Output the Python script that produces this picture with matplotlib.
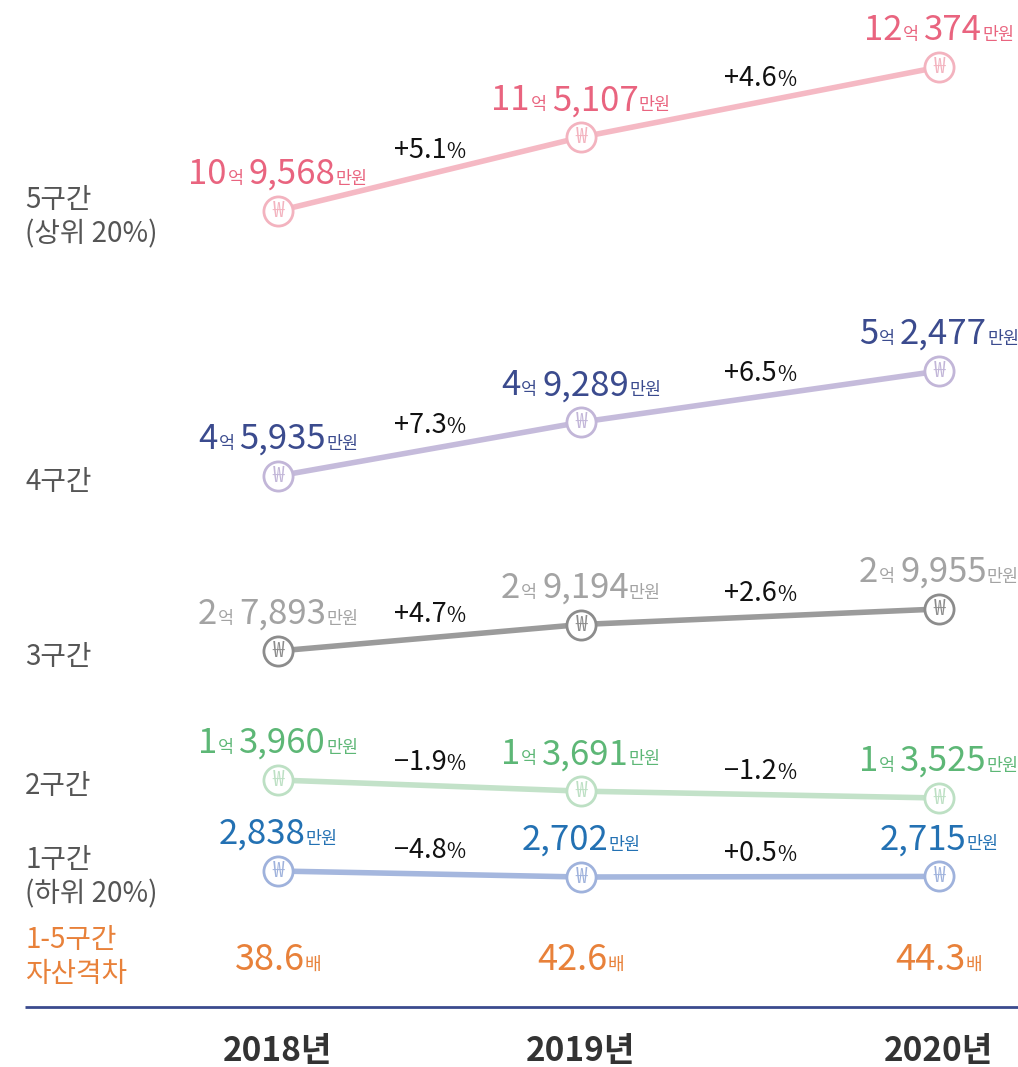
import matplotlib
matplotlib.use("Agg")
import matplotlib.pyplot as plt

plt.rcParams['font.family'] = ['Noto Sans CJK KR', 'DejaVu Sans']

# data (단위: 만원)
years = ['2018년', '2019년', '2020년']
group_labels = ['5구간\n(상위 20%)', '4구간', '3구간', '2구간', '1구간\n(하위 20%)']
g5 = [109568, 115107, 120374]
g4 = [45935, 49289, 52477]
g3 = [27893, 29194, 29955]
g2 = [13960, 13691, 13525]
g1 = [2838, 2702, 2715]
r5 = ['+5.1', '+4.6']
r4 = ['+7.3', '+6.5']
r3 = ['+4.7', '+2.6']
r2 = ['\u22121.9', '\u22121.2']
r1 = ['\u22124.8', '+0.5']
gap_label = '1-5구간\n자산격차'
gap_ratio = ['38.6', '42.6', '44.3']

# layout
W, H = 1018, 1067
col_x = [278 / W, 581 / W, 939 / W]
# pixel rows of each band's max / min value
band_px = [(67, 211), (371, 476), (609, 651), (780, 798), (871, 877)]
text_cols = ['#e9647f', '#3b4b8e', '#a3a3a3', '#5db776', '#2371b3']
line_cols = ['#f5b9c4', '#c5bbdb', '#9b9b9b', '#c3e2c9', '#a5b7de']
mark_cols = ['#f3b3bf', '#c2b6d8', '#8c8c8c', '#bde0c4', '#9fb2dc']
orange = '#e8813a'

fig = plt.figure(figsize=(W / 100, H / 100), dpi=100)
renderer = fig.canvas.get_renderer()

base = fig.add_axes([0, 0, 1, 1])
base.set_xlim(0, 1)
base.set_ylim(H, 0)
base.axis('off')
base.patch.set_visible(False)


def rich(ax, x, y, pieces, dy):
    # pieces: (text, size, color, space after in px); centred on x
    texts = []
    for s, size, color, _ in pieces:
        t = ax.annotate(s, (x, y), xytext=(0, dy), textcoords='offset pixels',
                        ha='left', va='baseline', fontsize=size, color=color,
                        fontweight='medium', annotation_clip=False)
        texts.append(t)
    widths = [t.get_window_extent(renderer).width for t in texts]
    gaps = [p[3] for p in pieces]
    total = sum(widths) + sum(gaps[:-1])
    ox = -total / 2
    for t, w, g in zip(texts, widths, gaps):
        t.xyann = (ox, dy)
        ox += w + g


def value_pieces(v, color):
    eok, man = divmod(v, 10000)
    out = []
    if eok:
        out += [(str(eok), 25, color, 1), ('억', 12.5, color, 5)]
    out += [(f'{man:,}', 25, color, 0), ('만원', 12.5, color, 0)]
    return out


series = [g5, g4, g3, g2, g1]
rates = [r5, r4, r3, r2, r1]
for i, vals in enumerate(series):
    top, bot = band_px[i]
    ax = fig.add_axes([0, 1 - bot / H, 1, (bot - top) / H])
    ax.set_xlim(0, 1)
    ax.set_ylim(min(vals), max(vals))
    ax.axis('off')
    ax.patch.set_visible(False)
    ax.plot(col_x, vals, color=line_cols[i], lw=4, solid_capstyle='round',
            clip_on=False, zorder=1)
    ax.plot(col_x, vals, ls='none', marker='o', ms=21, mfc='white',
            mec=mark_cols[i], mew=2, clip_on=False, zorder=2)
    for x, v in zip(col_x, vals):
        ax.text(x, v, '\u20a9', ha='center', va='center', fontsize=15,
                color=mark_cols[i], clip_on=False, zorder=3)
        rich(ax, x, v, value_pieces(v, text_cols[i]), dy=27)
    for j, r in enumerate(rates[i]):
        mx = (col_x[j] + col_x[j + 1]) / 2
        my = (vals[j] + vals[j + 1]) / 2
        rich(ax, mx, my, [(r, 19.5, '#111111', 0), ('%', 15, '#111111', 0)], dy=16)
    ax.annotate(group_labels[i], (25 / W, vals[0]), xytext=(0, -6),
                textcoords='offset pixels', ha='left', va='center',
                fontsize=20, color='#555555', linespacing=1.2,
                annotation_clip=False)

# 자산격차 row
base.text(25 / W, 957, gap_label, ha='left', va='center', fontsize=20,
          color=orange, linespacing=1.2)
for x, g in zip(col_x, gap_ratio):
    rich(base, x, 970, [(g, 26, orange, 0), ('배', 13, orange, 0)], dy=0)

base.hlines(1007, 25 / W, 1, color='#3b4b8e', lw=2)
for x, y in zip(col_x, years):
    base.text(x, 1052, y, ha='center', va='center', fontsize=24,
              fontweight='bold', color='#333333')

fig.savefig('out.png', dpi=100)
